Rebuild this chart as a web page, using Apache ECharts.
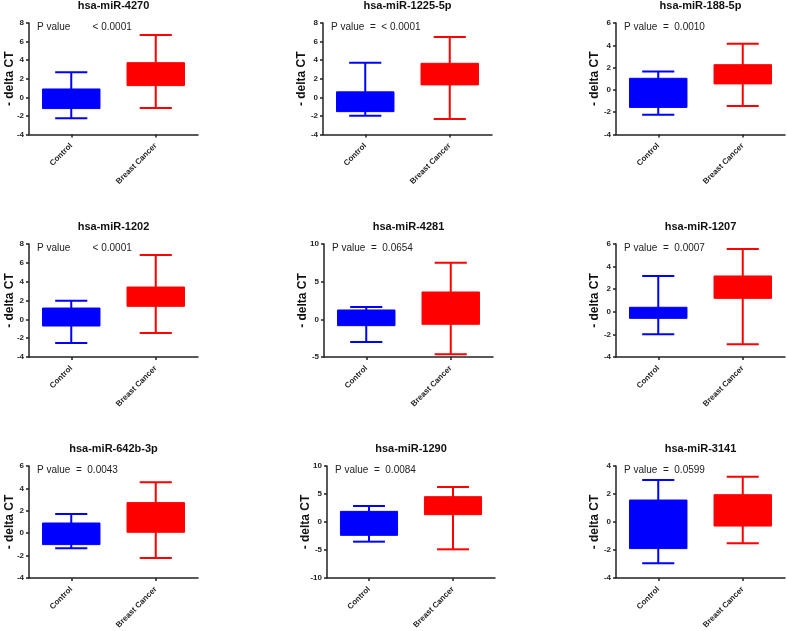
<!DOCTYPE html>
<html>
<head>
<meta charset="utf-8">
<script src="https://cdn.jsdelivr.net/npm/echarts@6/dist/echarts.min.js"></script>
<style>
html,body{margin:0;padding:0;background:#fff;}
#main{width:787px;height:631px;}
</style>
</head>
<body>
<div id="main"></div>
<script>
// ---- data ----
const panelTitles = ['hsa-miR-4270','hsa-miR-1225-5p','hsa-miR-188-5p','hsa-miR-1202','hsa-miR-4281','hsa-miR-1207','hsa-miR-642b-3p','hsa-miR-1290','hsa-miR-3141'];
const pValueTexts = ['P value        < 0.0001','P value  =  < 0.0001','P value  =  0.0010','P value        < 0.0001','P value  =  0.0654','P value  =  0.0007','P value  =  0.0043','P value  =  0.0084','P value  =  0.0599'];
const categories = ['Control','Breast Cancer'];
// [min, Q1, Q3, max]
const controlStats = [
  [-2.25,-1.21,0.90,2.70],
  [-1.97,-1.54,0.59,3.73],
  [-2.22,-1.57,1.04,1.64],
  [-2.51,-0.71,1.20,1.98],
  [-3.01,-0.84,1.24,1.64],
  [-1.99,-0.58,0.40,3.17],
  [-1.35,-1.02,0.91,1.71],
  [-3.51,-2.38,1.90,2.86],
  [-2.95,-1.90,1.57,3.00]
];
const cancerStats = [
  [-1.14,1.26,3.73,6.71],
  [-2.33,1.34,3.66,6.50],
  [-1.45,0.54,2.26,4.13],
  [-1.45,1.38,3.43,6.83],
  [-4.65,-0.66,3.63,7.52],
  [-2.88,1.19,3.17,5.56],
  [-2.21,0.08,2.73,4.54],
  [-4.88,1.31,4.52,6.25],
  [-1.52,-0.29,1.95,3.24]
];
const yMins = [-4,-4,-4,-4,-5,-4,-4,-10,-4];
const yMaxs = [8,8,6,8,10,6,6,10,4];
const ySteps = [2,2,2,2,5,2,2,5,2];
const yAxisName = '- delta CT';

// ---- layout ----
const gridLeft = [29,323,616,29,324,616,29,327,616];
const rowTop = [23,244,466];
const rowHeight = [111.5,113,112];
const gridWidth = [169,169,169,169,169,169,169,168,169];
const nameOffset = [19,21.5,21.5,19,21.5,21.5,19,21.5,21.5];
const FONT = '"Liberation Sans", Arial, Helvetica, sans-serif';
const colors = ['#0000FF','#FF0000'];

function renderBox(params, api) {
  const x = api.value(0);
  const pMin = api.coord([x, api.value(1)]);
  const pQ1 = api.coord([x, api.value(2)]);
  const pQ3 = api.coord([x, api.value(3)]);
  const pMax = api.coord([x, api.value(4)]);
  const band = api.size([1, 0])[0];
  const boxW = band * 0.68;
  const capW = band * 0.38;
  const color = api.visual('color');
  const cx = pMin[0];
  const ls = {stroke: color, lineWidth: 2};
  return {
    type: 'group',
    children: [
      {type: 'line', shape: {x1: cx, y1: pMax[1], x2: cx, y2: pMin[1]}, style: ls},
      {type: 'line', shape: {x1: cx - capW/2, y1: pMax[1], x2: cx + capW/2, y2: pMax[1]}, style: ls},
      {type: 'line', shape: {x1: cx - capW/2, y1: pMin[1], x2: cx + capW/2, y2: pMin[1]}, style: ls},
      {type: 'rect', shape: {x: cx - boxW/2, y: pQ3[1], width: boxW, height: pQ1[1] - pQ3[1]},
        style: {fill: color, stroke: color, lineWidth: 1}}
    ]
  };
}

const grids = [], xAxes = [], yAxes = [], series = [], graphics = [];
for (let i = 0; i < 9; i++) {
  const row = Math.floor(i / 3);
  const top = rowTop[row], h = rowHeight[row];
  grids.push({left: gridLeft[i], top: top, width: gridWidth[i], height: h, containLabel: false, outerBoundsMode: 'none'});
  xAxes.push({
    gridIndex: i, type: 'category', data: categories, boundaryGap: true, position: 'bottom',
    axisLine: {show: true, onZero: false, lineStyle: {color: '#222', width: 1.5}},
    axisTick: {show: true, alignWithLabel: true, length: 3, lineStyle: {color: '#222', width: 1.5}},
    axisLabel: {rotate: 45, margin: 10, fontSize: 8, fontWeight: 'bold', color: '#222', fontFamily: FONT, interval: 0},
    splitLine: {show: false}
  });
  yAxes.push({
    gridIndex: i, type: 'value', min: yMins[i], max: yMaxs[i], interval: ySteps[i],
    axisLine: {show: true, onZero: false, lineStyle: {color: '#222', width: 1.5}},
    axisTick: {show: true, length: 3, lineStyle: {color: '#222', width: 1.5}},
    axisLabel: {margin: 5, fontSize: 8, fontWeight: 'bold', color: '#222', fontFamily: FONT},
    splitLine: {show: false}
  });
  const statsSets = [controlStats[i], cancerStats[i]];
  for (let c = 0; c < 2; c++) {
    const s = statsSets[c];
    series.push({
      type: 'custom', xAxisIndex: i, yAxisIndex: i,
      itemStyle: {color: colors[c]},
      renderItem: renderBox,
      encode: {x: 0, y: [1, 2, 3, 4]},
      data: [[c, s[0], s[1], s[2], s[3]]],
      silent: true, animation: false
    });
  }
  graphics.push({
    type: 'text', x: gridLeft[i] + gridWidth[i] / 2, y: top - 17,
    style: {text: panelTitles[i], font: 'bold 11px ' + FONT, fill: '#111', align: 'center', verticalAlign: 'middle', textAlign: 'center', textVerticalAlign: 'middle'}
  });
  graphics.push({
    type: 'text', x: gridLeft[i] + 8, y: top + 4,
    style: {text: pValueTexts[i], font: '10px ' + FONT, fill: '#222', align: 'left', verticalAlign: 'middle', textAlign: 'left', textVerticalAlign: 'middle'}
  });
  graphics.push({
    type: 'text', x: gridLeft[i] - nameOffset[i], y: top + h / 2, rotation: Math.PI / 2,
    style: {text: yAxisName, font: 'bold 12px ' + FONT, fill: '#111', align: 'center', verticalAlign: 'middle', textAlign: 'center', textVerticalAlign: 'middle'}
  });
}

const chart = echarts.init(document.getElementById('main'), null, {renderer: 'canvas'});
chart.setOption({
  animation: false,
  backgroundColor: '#fff',
  grid: grids, xAxis: xAxes, yAxis: yAxes, series: series,
  graphic: graphics
});
</script>
</body>
</html>
